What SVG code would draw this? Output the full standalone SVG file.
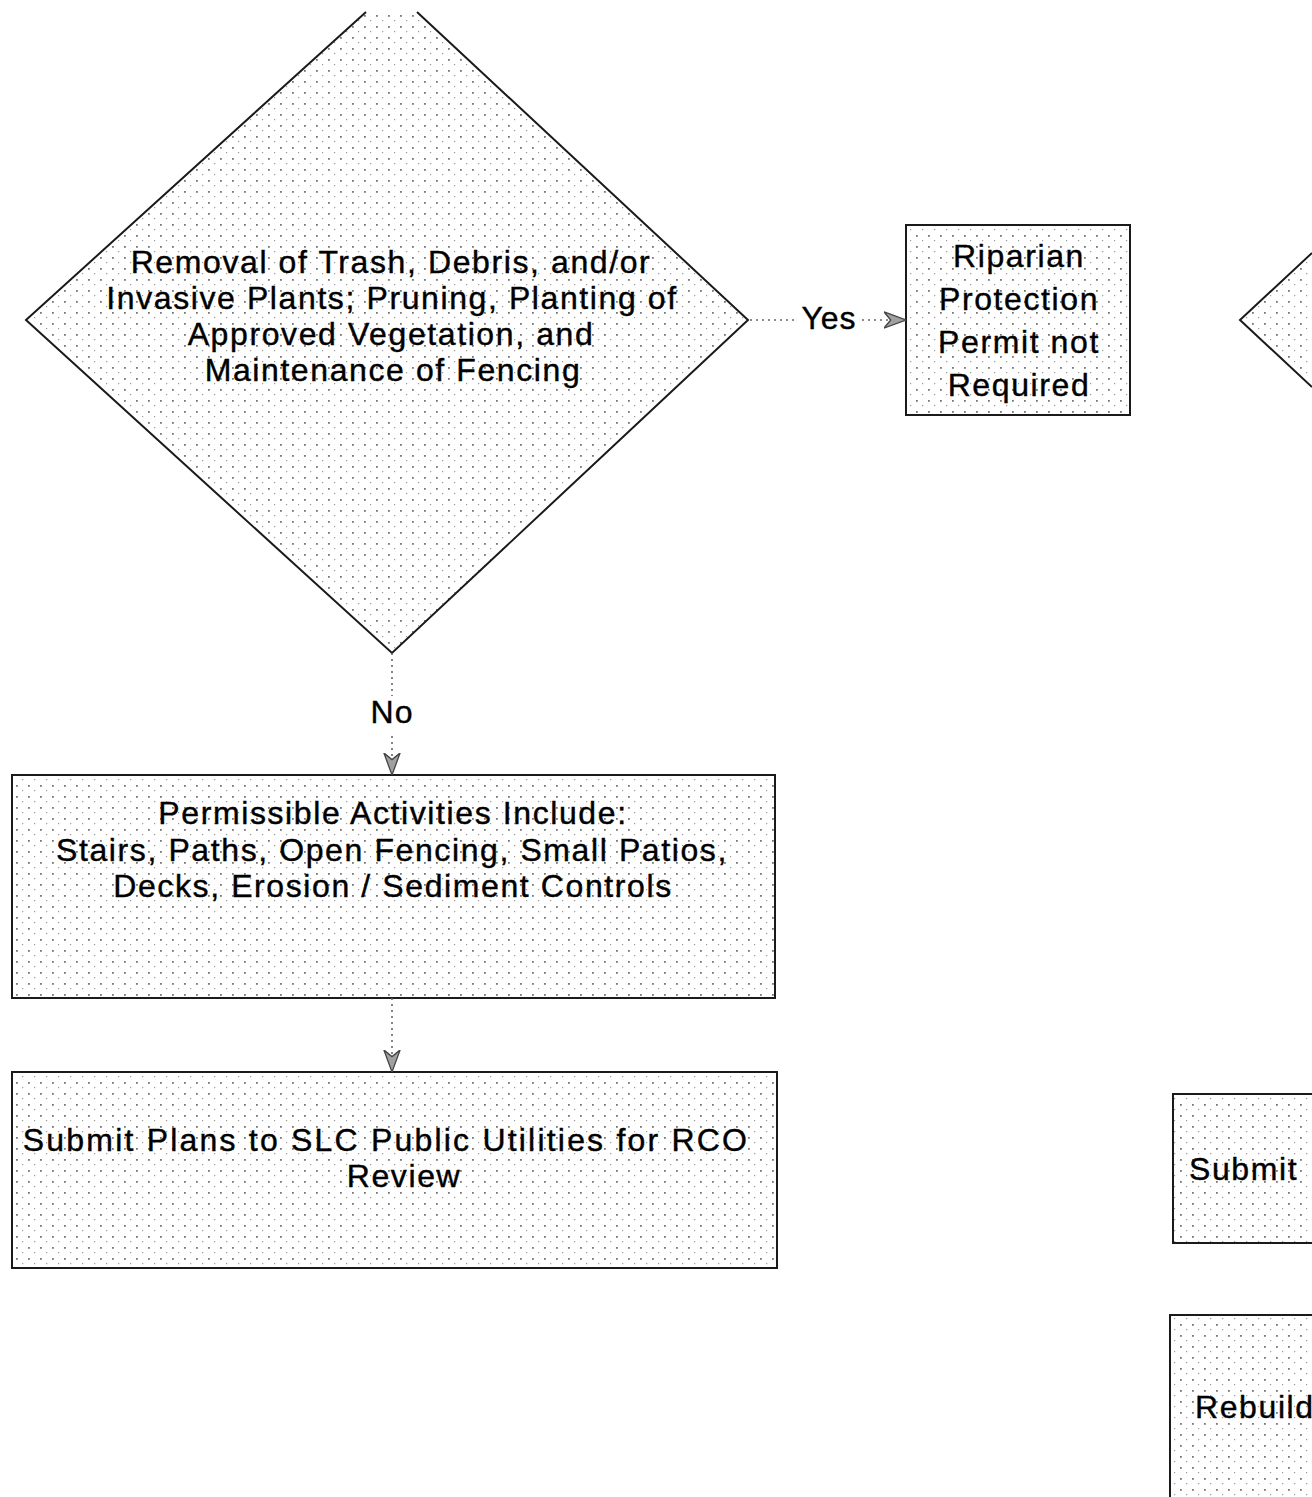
<svg xmlns="http://www.w3.org/2000/svg" width="1312" height="1497" viewBox="0 0 1312 1497">
<defs>
<pattern id="dots" width="12" height="11" patternUnits="userSpaceOnUse">
<rect x="4" y="4" width="1.8" height="1.8" fill="#777"/>
<rect x="10" y="9" width="1.2" height="1.2" fill="#999"/>
</pattern>
<marker id="arr" viewBox="0 0 10 10" refX="10" refY="5" markerWidth="22" markerHeight="18" markerUnits="userSpaceOnUse" orient="auto" preserveAspectRatio="none">
<path d="M0,0.5 L10,5 L0,9.5 L3,5 Z" fill="#a0a0a0" stroke="#444" stroke-width="0.7"/>
</marker>
</defs>
<style>
.shape{fill:url(#dots);stroke:#1a1a1a;stroke-width:2}
.edge{fill:none;stroke:#1a1a1a;stroke-width:2}
.t{font-family:"Liberation Sans",Arial,sans-serif;font-size:32px;letter-spacing:1.6px;fill:#000;stroke:#000;stroke-width:0.4;text-anchor:middle}
.lbl{font-family:"Liberation Sans",Arial,sans-serif;font-size:32px;letter-spacing:1px;fill:#000;stroke:#000;stroke-width:0.4;text-anchor:middle}
.conn{fill:none;stroke:#666;stroke-width:1.6;stroke-dasharray:2 4}
</style>
<g id="decision-removal">
<polygon points="366,12 26,320 392,653 748,320 417,12" fill="url(#dots)" stroke="none"/>
<polyline class="edge" points="366,12 26,320 392,653 748,320 417,12"/>
<text class="t" x="391" y="273">Removal of Trash, Debris, and/or</text>
<text class="t" x="392" y="309">Invasive Plants; Pruning, Planting of</text>
<text class="t" x="391" y="345">Approved Vegetation, and</text>
<text class="t" x="393" y="381">Maintenance of Fencing</text>
</g>
<g id="riparian-permit">
<rect class="shape" x="906" y="225" width="224" height="190"/>
<text class="t" x="1019" y="267">Riparian</text>
<text class="t" x="1019" y="310">Protection</text>
<text class="t" x="1019" y="353">Permit not</text>
<text class="t" x="1019" y="396">Required</text>
</g>
<g id="decision-right">
<polygon points="1312,253 1240,320 1312,387" fill="url(#dots)" stroke="none"/>
<polyline class="edge" points="1312,253 1240,320 1312,387"/>
</g>
<g id="permissible-activities">
<rect class="shape" x="12" y="775" width="763" height="223"/>
<text class="t" x="393" y="824">Permissible Activities Include:</text>
<text class="t" x="392" y="861">Stairs, Paths, Open Fencing, Small Patios,</text>
<text class="t" x="393" y="897">Decks, Erosion / Sediment Controls</text>
</g>
<g id="submit-plans">
<rect class="shape" x="12" y="1072" width="765" height="196"/>
<text class="t" x="386" y="1151" style="letter-spacing:2.2px">Submit Plans to SLC Public Utilities for RCO</text>
<text class="t" x="404" y="1187">Review</text>
</g>
<g id="submit-right">
<rect class="shape" x="1173" y="1094" width="160" height="149"/>
<text class="t" x="1189" y="1180" style="text-anchor:start">Submit</text>
</g>
<g id="rebuild-right">
<rect class="shape" x="1170" y="1315" width="160" height="200"/>
<text class="t" x="1195" y="1418" style="text-anchor:start">Rebuild</text>
</g>
<g id="connectors">
<line class="conn" x1="750" y1="320" x2="796" y2="320"/>
<text class="lbl" x="829" y="329">Yes</text>
<line class="conn" x1="862" y1="320" x2="906" y2="320" marker-end="url(#arr)"/>
<line class="conn" x1="392" y1="653" x2="392" y2="696"/>
<text class="lbl" x="392" y="723">No</text>
<line class="conn" x1="392" y1="736" x2="392" y2="775" marker-end="url(#arr)"/>
<line class="conn" x1="392" y1="998" x2="392" y2="1072" marker-end="url(#arr)"/>
</g>
</svg>
